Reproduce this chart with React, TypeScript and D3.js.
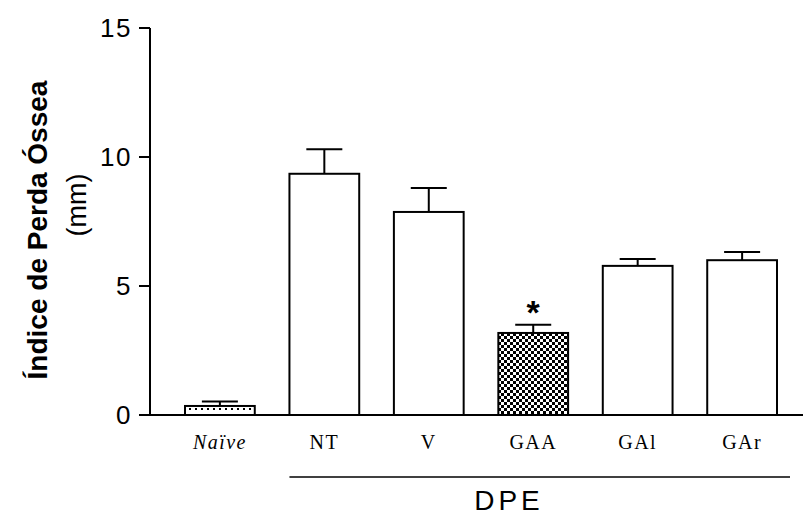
import React from 'react';
import { scaleBand, scaleLinear } from 'd3';

const categories = ['Naïve', 'NT', 'V', 'GAA', 'GA1', 'GAr'];
const labels = ['Naïve', 'NT', 'V', 'GAA', 'GAl', 'GAr'];
const means = [0.35, 9.35, 7.87, 3.18, 5.78, 6.0];
const errors = [0.17, 0.95, 0.93, 0.32, 0.27, 0.32];
const fills = ['url(#dots)', '#fff', '#fff', 'url(#checker)', '#fff', '#fff'];
const yTicks = [0, 5, 10, 15];
const groupLabel = 'DPE';
const significant = ['GAA'];

function App() {
  const width = 803;
  const height = 515;

  const x = scaleBand<string>()
    .domain(categories)
    .range([185, 777])
    .paddingInner(0.332)
    .paddingOuter(0);

  const y = scaleLinear().domain([0, 15]).range([415, 28]);

  const bw = x.bandwidth();
  const axisX = 150;
  const dpeStart = x('NT')!;
  const sans = 'Liberation Sans, Arial, sans-serif';

  return (
    <svg width={width} height={height} style={{ position: 'absolute', left: 0, top: 0 }}>
      <defs>
        <pattern id="checker" width={6} height={6} patternUnits="userSpaceOnUse">
          <rect width={6} height={6} fill="#fff" />
          <rect width={3} height={3} fill="#000" />
          <rect x={3} y={3} width={3} height={3} fill="#000" />
        </pattern>
        <pattern id="dots" width={6} height={20} patternUnits="userSpaceOnUse" x={187} y={408}>
          <rect width={6} height={20} fill="#fff" />
          <rect x={2} y={0} width={2} height={2} fill="#000" />
        </pattern>
      </defs>

      {/* y axis */}
      <line x1={axisX} x2={axisX} y1={y(15)} y2={y(0)} stroke="#000" strokeWidth={2} />
      {yTicks.map((t) => (
        <g key={t}>
          <line x1={axisX - 11} x2={axisX} y1={y(t)} y2={y(t)} stroke="#000" strokeWidth={2} />
          <text
            x={axisX - 18}
            y={y(t)}
            dy="0.36em"
            textAnchor="end"
            fontFamily={sans}
            fontSize={26}
            letterSpacing={1.5}
          >
            {t}
          </text>
        </g>
      ))}

      {/* y title */}
      <text
        transform="translate(47,230) rotate(-90)"
        textAnchor="middle"
        fontFamily={sans}
        fontWeight="bold"
        fontSize={28}
      >
        Índice de Perda Óssea
      </text>
      <text
        transform="translate(86,205) rotate(-90)"
        textAnchor="middle"
        fontFamily={sans}
        fontSize={27}
      >
        (mm)
      </text>

      {/* bars */}
      {categories.map((c, i) => {
        const x0 = x(c)!;
        const cx = x0 + bw / 2;
        return (
          <g key={c}>
            <line x1={cx} x2={cx} y1={y(means[i])} y2={y(means[i] + errors[i])} stroke="#000" strokeWidth={2} />
            <line x1={cx - 18} x2={cx + 18} y1={y(means[i] + errors[i])} y2={y(means[i] + errors[i])} stroke="#000" strokeWidth={2} />
            <rect
              x={x0}
              y={y(means[i])}
              width={bw}
              height={y(0) - y(means[i])}
              fill={fills[i]}
              stroke="#000"
              strokeWidth={2}
            />
            {significant.includes(c) && (
              <text
                x={cx}
                y={y(means[i] + errors[i]) - 1}
                textAnchor="middle"
                fontFamily={sans}
                fontWeight="bold"
                fontSize={34}
              >
                *
              </text>
            )}
            <text
              x={cx}
              y={449}
              textAnchor="middle"
              fontFamily="Liberation Serif, Times New Roman, serif"
              fontStyle={i === 0 ? 'italic' : 'normal'}
              fontSize={20}
              letterSpacing={1.4}
            >
              {labels[i]}
            </text>
          </g>
        );
      })}

      {/* x axis */}
      <line x1={axisX - 1} x2={width} y1={y(0)} y2={y(0)} stroke="#000" strokeWidth={2} />

      {/* group bracket */}
      <line x1={dpeStart} x2={790} y1={477} y2={477} stroke="#000" strokeWidth={1.5} />
      <text
        x={509}
        y={510}
        textAnchor="middle"
        fontFamily={sans}
        fontSize={28}
        letterSpacing={4}
      >
        {groupLabel}
      </text>
    </svg>
  );
}

export default App;
